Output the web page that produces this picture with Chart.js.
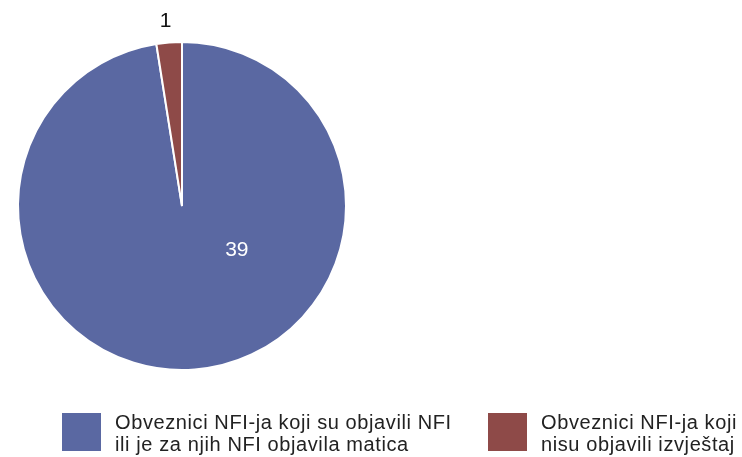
<!DOCTYPE html>
<html lang="hr">
  <head>
    <meta charset="UTF-8" />
    <title>NFI pie</title>
    <script src="https://cdn.jsdelivr.net/npm/chart.js"></script>
    <style>
      body { margin: 0; background: #fff; font-family: "Liberation Sans", Arial, sans-serif; }
      #wrap { position: relative; width: 742px; height: 457px; }
      #legend { position: absolute; left: 0; top: 411px; width: 742px; height: 46px; }
      .item { position: absolute; top: 0; display: flex; }
      .box { width: 39px; height: 38px; margin-top: 2px; }
      .txt { font-size: 20px; letter-spacing: 0.6px; line-height: 22px; color: #222; margin-left: 14px; white-space: nowrap; }
    </style>
  </head>
  <body>
    <div id="wrap">
      <canvas id="chart" width="742" height="457"></canvas>
      <div id="legend"></div>
    </div>
    <script>
      const categories = [
        ["Obveznici NFI-ja koji su objavili NFI", "ili je za njih NFI objavila matica"],
        ["Obveznici NFI-ja koji", "nisu objavili izvještaj"],
      ];
      const values = [39, 1];
      const colors = ["#5a68a2", "#8e4a48"];
      const legendLeft = [62, 488];

      // value labels: inside (white) for the big slice, outside (black) for the small one
      const sliceLabels = {
        id: "sliceLabels",
        afterDatasetsDraw(chart) {
          const ctx = chart.ctx;
          const arcs = chart.getDatasetMeta(0).data;
          ctx.save();
          ctx.font = "21px 'Liberation Sans', Arial, sans-serif";
          ctx.textAlign = "center";
          ctx.textBaseline = "middle";
          arcs.forEach((arc, i) => {
            const { x, y, outerRadius, startAngle, endAngle } = arc.getProps(
              ["x", "y", "outerRadius", "startAngle", "endAngle"], true);
            let a, r;
            if (i === 0) {
              a = 0.68; r = outerRadius * 0.43;
              ctx.fillStyle = "#ffffff";
            } else {
              a = (startAngle + endAngle) / 2 - 0.01; r = outerRadius + 22;
              ctx.fillStyle = "#111111";
            }
            ctx.fillText(String(values[i]), x + Math.cos(a) * r, y + Math.sin(a) * r);
          });
          ctx.restore();
        },
      };

      const chart = new Chart(document.getElementById("chart"), {
        type: "pie",
        data: {
          labels: categories.map((l) => l.join(" ")),
          datasets: [
            {
              data: values,
              backgroundColor: colors,
              borderColor: "#ffffff",
              borderWidth: 2,
            },
          ],
        },
        options: {
          responsive: false,
          animation: false,
          layout: { padding: { left: 17, top: 41, right: 395, bottom: 86 } },
          plugins: {
            legend: { display: false },
            tooltip: { enabled: false },
          },
        },
        plugins: [sliceLabels],
      });

      const legend = document.getElementById("legend");
      categories.forEach((lines, i) => {
        const item = document.createElement("div");
        item.className = "item";
        item.style.left = legendLeft[i] + "px";
        const box = document.createElement("div");
        box.className = "box";
        box.style.background = colors[i];
        const txt = document.createElement("div");
        txt.className = "txt";
        txt.innerHTML = lines.join("<br>");
        item.appendChild(box);
        item.appendChild(txt);
        legend.appendChild(item);
      });
    </script>
  </body>
</html>
